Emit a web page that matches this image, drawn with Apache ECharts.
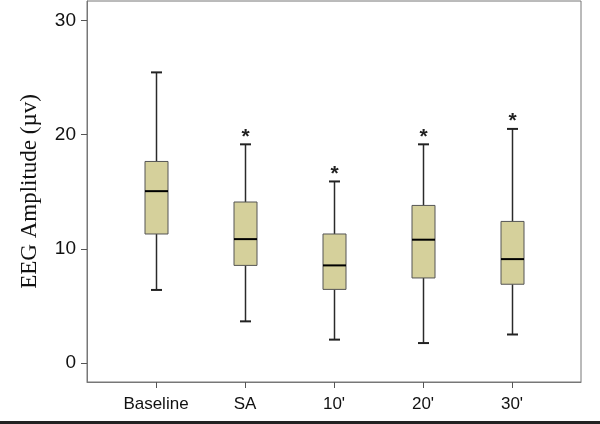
<!DOCTYPE html>
<html>
<head>
<meta charset="utf-8">
<script src="https://cdn.jsdelivr.net/npm/echarts@6/dist/echarts.min.js"></script>
<style>html,body{margin:0;padding:0;background:#fff}#c{width:600px;height:424px}</style>
</head>
<body>
<div id="c"></div>
<script>
var categories = ["Baseline", "SA", "10'", "20'", "30'"];
var whiskerLow = [6.4, 3.65, 2.05, 1.75, 2.5];
var q1 = [11.3, 8.55, 6.45, 7.45, 6.9];
var median = [15.05, 10.85, 8.55, 10.8, 9.1];
var q3 = [17.65, 14.1, 11.3, 13.8, 12.4];
var whiskerHigh = [25.45, 19.15, 15.9, 19.15, 20.5];
var significant = [0, 1, 1, 1, 1];
var yTicks = [0, 10, 20, 30];
var xTicks = [0, 1, 2, 3, 4];

var data = categories.map(function (c, i) {
  return [i, whiskerLow[i], q1[i], median[i], q3[i], whiskerHigh[i], significant[i]];
});

var chart = echarts.init(document.getElementById('c'), null, {renderer: 'canvas'});
chart.setOption({
  animation: false,
  backgroundColor: '#ffffff',
  grid: {
    left: 87, right: 19, top: 1, bottom: 42,
    show: true, borderColor: '#777', borderWidth: 1, backgroundColor: 'transparent'
  },
  xAxis: {
    type: 'value',
    min: -0.775, max: 4.775,
    splitLine: {show: false},
    axisLine: {show: true, onZero: false, lineStyle: {color: '#777', width: 1}},
    axisTick: {show: true, length: 6, lineStyle: {color: '#555'}, customValues: xTicks},
    axisLabel: {
      customValues: xTicks,
      formatter: function (v) { return categories[Math.round(v)]; },
      color: '#111', fontSize: 17, fontFamily: 'Liberation Sans, Arial, sans-serif', margin: 14
    }
  },
  yAxis: {
    type: 'value',
    min: -1.66, max: 31.7,
    name: 'EEG Amplitude (\u00b5v)',
    nameLocation: 'middle',
    nameGap: 46,
    nameTextStyle: {fontFamily: 'Liberation Serif, Times New Roman, serif', fontSize: 23, color: '#111'},
    splitLine: {show: false},
    axisLine: {show: true, onZero: false, lineStyle: {color: '#777', width: 1}},
    axisTick: {show: true, length: 6, lineStyle: {color: '#555'}, customValues: yTicks},
    axisLabel: {
      customValues: yTicks,
      color: '#111', fontSize: 19, fontFamily: 'Liberation Sans, Arial, sans-serif', margin: 11
    }
  },
  graphic: [{
    type: 'rect', left: 0, top: 421, shape: {width: 600, height: 3},
    style: {fill: '#222'}, silent: true
  }],
  series: [{
    type: 'custom',
    data: data,
    encode: {x: 0, y: [1, 2, 3, 4, 5]},
    renderItem: function (params, api) {
      var x = api.value(0);
      var pLo = api.coord([x, api.value(1)]);
      var pQ1 = api.coord([x, api.value(2)]);
      var pMed = api.coord([x, api.value(3)]);
      var pQ3 = api.coord([x, api.value(4)]);
      var pHi = api.coord([x, api.value(5)]);
      var cx = Math.round(pLo[0]) + 0.5;
      var bw = 23, cw = 11;
      var lineStyle = {stroke: '#2a2a2a', lineWidth: 1.5};
      var children = [
        {type: 'line', shape: {x1: cx, y1: pHi[1], x2: cx, y2: pQ3[1]}, style: lineStyle},
        {type: 'line', shape: {x1: cx, y1: pQ1[1], x2: cx, y2: pLo[1]}, style: lineStyle},
        {type: 'line', shape: {x1: cx - cw / 2, y1: pHi[1], x2: cx + cw / 2, y2: pHi[1]}, style: {stroke: '#222', lineWidth: 2}},
        {type: 'line', shape: {x1: cx - cw / 2, y1: pLo[1], x2: cx + cw / 2, y2: pLo[1]}, style: {stroke: '#222', lineWidth: 2}},
        {type: 'rect', shape: {x: cx - bw / 2, y: pQ3[1], width: bw, height: pQ1[1] - pQ3[1]},
          style: {fill: '#d5d09b', stroke: '#555', lineWidth: 1}},
        {type: 'line', shape: {x1: cx - bw / 2, y1: pMed[1], x2: cx + bw / 2, y2: pMed[1]}, style: {stroke: '#000', lineWidth: 2}}
      ];
      if (api.value(6)) {
        children.push({
          type: 'text',
          style: {
            text: '*', x: cx, y: pHi[1] + 3, align: 'center', verticalAlign: 'bottom',
            fontSize: 21, fontWeight: 'bold', fontFamily: 'Liberation Sans, Arial, sans-serif', fill: '#222'
          }
        });
      }
      return {type: 'group', children: children};
    }
  }]
});
</script>
</body>
</html>
